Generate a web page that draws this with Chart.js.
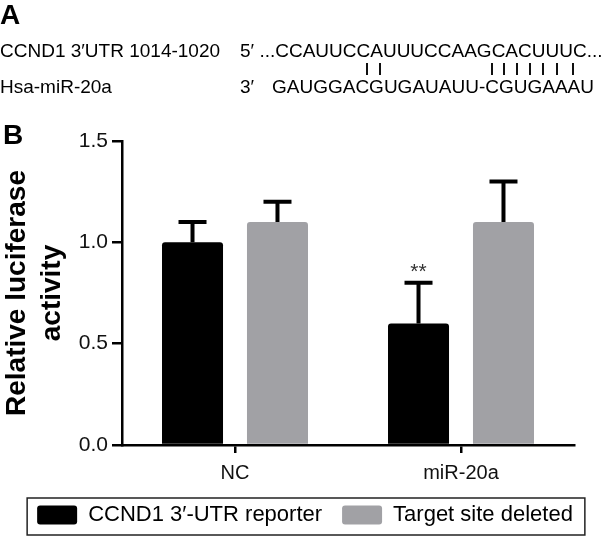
<!DOCTYPE html>
<html>
<head>
<meta charset="utf-8">
<script src="https://cdn.jsdelivr.net/npm/chart.js@4.4.1/dist/chart.umd.min.js"></script>
<style>
  body { margin: 0; background: #fff; }
  #wrap { position: relative; width: 610px; height: 539px; overflow: hidden; font-family: "Liberation Sans", Arial, sans-serif; color: #000; }
  #wrap canvas { position: absolute; left: 0; top: 0; }
  .txt { position: absolute; white-space: pre; font-size: 19px; line-height: 19px; }
  .panel { position: absolute; font-weight: bold; font-size: 28px; line-height: 28px; }
  .pair { position: absolute; top: 63px; width: 1.4px; height: 12px; background: #111; }
</style>
</head>
<body>
<div id="wrap">
  <canvas id="chart" width="610" height="539"></canvas>
  <div class="panel" style="left:0px; top:1px;">A</div>
  <div class="txt" style="left:0px; top:41px;">CCND1 3′UTR 1014-1020</div>
  <div class="txt" style="left:240px; top:41px;">5′ ...CCAUUCCAUUUCCAAGCACUUUC...</div>
  <div class="txt" style="left:0px; top:77px;">Hsa-miR-20a</div>
  <div class="txt" style="left:240px; top:77px;">3′</div>
  <div class="txt" style="left:272px; top:77px;">GAUGGACGUGAUAUU-CGUGAAAU</div>
  <div id="pairs"></div>
  <div class="panel" style="left:3px; top:121px;">B</div>
</div>
<script>
// données
var categories = ["NC", "miR-20a"];
var reporterMeans = [1.0, 0.6];
var reporterErrors = [0.1, 0.2];
var deletedMeans = [1.1, 1.1];
var deletedErrors = [0.1, 0.2];
var seriesNames = ["CCND1 3′-UTR reporter", "Target site deleted"];
var reporterStars = ["", "**"];
var yTickValues = [0, 0.5, 1.0, 1.5];
var yTitle = ["Relative luciferase", "activity"];

// traits d'appariement sous la séquence (panneau A)
var pairX = [367, 380, 492, 504, 517, 530, 543, 557, 573];
var pairsBox = document.getElementById("pairs");
pairX.forEach(function (x) {
  var d = document.createElement("div");
  d.className = "pair";
  d.style.left = (x - 0.7) + "px";
  pairsBox.appendChild(d);
});

// barres d'erreur + étoiles
var errorBars = {
  id: "errorBars",
  afterDatasetsDraw: function (chart) {
    var ctx = chart.ctx;
    var yScale = chart.scales.y;
    chart.data.datasets.forEach(function (ds, i) {
      var meta = chart.getDatasetMeta(i);
      meta.data.forEach(function (bar, j) {
        var yTop = yScale.getPixelForValue(ds.data[j] + ds.errors[j]);
        ctx.save();
        ctx.strokeStyle = "#000";
        ctx.lineWidth = 4;
        ctx.beginPath();
        ctx.moveTo(bar.x, bar.y);
        ctx.lineTo(bar.x, yTop);
        ctx.moveTo(bar.x - 14, yTop);
        ctx.lineTo(bar.x + 14, yTop);
        ctx.stroke();
        if (ds.stars && ds.stars[j]) {
          ctx.fillStyle = "#333";
          ctx.font = "21px 'Liberation Sans', Arial, sans-serif";
          ctx.textAlign = "center";
          ctx.textBaseline = "middle";
          ctx.fillText(ds.stars[j], bar.x, yTop - 11);
        }
        ctx.restore();
      });
    });
  }
};

// cadre autour de la légende
var legendFrame = {
  id: "legendFrame",
  afterDraw: function (chart) {
    var boxes = chart.legend.legendHitBoxes;
    if (!boxes || !boxes.length) return;
    var l = Infinity, r = -Infinity, t = Infinity, b = -Infinity;
    boxes.forEach(function (h) {
      l = Math.min(l, h.left); r = Math.max(r, h.left + h.width);
      t = Math.min(t, h.top); b = Math.max(b, h.top + h.height);
    });
    var ctx = chart.ctx;
    ctx.save();
    ctx.strokeStyle = "#222";
    ctx.lineWidth = 1.5;
    ctx.strokeRect(l - 10, t - 6, (r - l) + 22, (b - t) + 15);
    ctx.restore();
  }
};

var ctx = document.getElementById("chart");
var myChart = new Chart(ctx, {
  type: "bar",
  data: {
    labels: categories,
    datasets: [
      {
        label: seriesNames[0],
        data: reporterMeans,
        errors: reporterErrors,
        stars: reporterStars,
        backgroundColor: "#000000",
        borderRadius: 3,
        borderSkipped: "bottom"
      },
      {
        label: seriesNames[1],
        data: deletedMeans,
        errors: deletedErrors,
        backgroundColor: "#a1a1a5",
        borderRadius: 3,
        borderSkipped: "bottom"
      }
    ]
  },
  options: {
    responsive: false,
    animation: false,
    devicePixelRatio: 1,
    layout: { padding: { top: 141, left: 0, right: 0, bottom: 3 } },
    datasets: { bar: { categoryPercentage: 0.752, barPercentage: 0.718 } },
    plugins: {
      tooltip: { enabled: false },
      legend: {
        position: "bottom",
        labels: {
          boxWidth: 40,
          boxHeight: 19,
          useBorderRadius: true,
          borderRadius: 3,
          padding: 20,
          color: "#000",
          font: { family: "'Liberation Sans', Arial, sans-serif", size: 22 }
        }
      }
    },
    scales: {
      x: {
        offset: true,
        afterFit: function (s) { s.height = 39; },
        grid: { offset: false, drawOnChartArea: false, drawTicks: true, tickLength: 8, color: "#000", lineWidth: 2.5 },
        border: { color: "#000", width: 2.5 },
        ticks: { color: "#111", padding: 8, font: { family: "'Liberation Sans', Arial, sans-serif", size: 20 } }
      },
      y: {
        min: 0,
        max: 1.5,
        afterBuildTicks: function (s) { s.ticks = yTickValues.map(function (v) { return { value: v }; }); },
        afterFit: function (s) { s.width = 122; },
        grid: { drawOnChartArea: false, drawTicks: true, tickLength: 10, color: "#000", lineWidth: 2.5 },
        border: { color: "#000", width: 2.5 },
        ticks: {
          color: "#111",
          padding: 4,
          font: { family: "'Liberation Sans', Arial, sans-serif", size: 21 },
          callback: function (v) { return Number(v).toFixed(1); }
        },
        title: {
          display: true,
          text: yTitle,
          color: "#000",
          padding: { top: 0, bottom: 0 },
          font: { family: "'Liberation Sans', Arial, sans-serif", size: 28, weight: "bold", lineHeight: 1.25 }
        }
      },
      yRight: {
        position: "right",
        display: true,
        grid: { display: false },
        border: { display: false },
        ticks: { display: false },
        afterFit: function (s) { s.width = 36; }
      }
    }
  },
  plugins: [errorBars, legendFrame]
});
</script>
</body>
</html>
